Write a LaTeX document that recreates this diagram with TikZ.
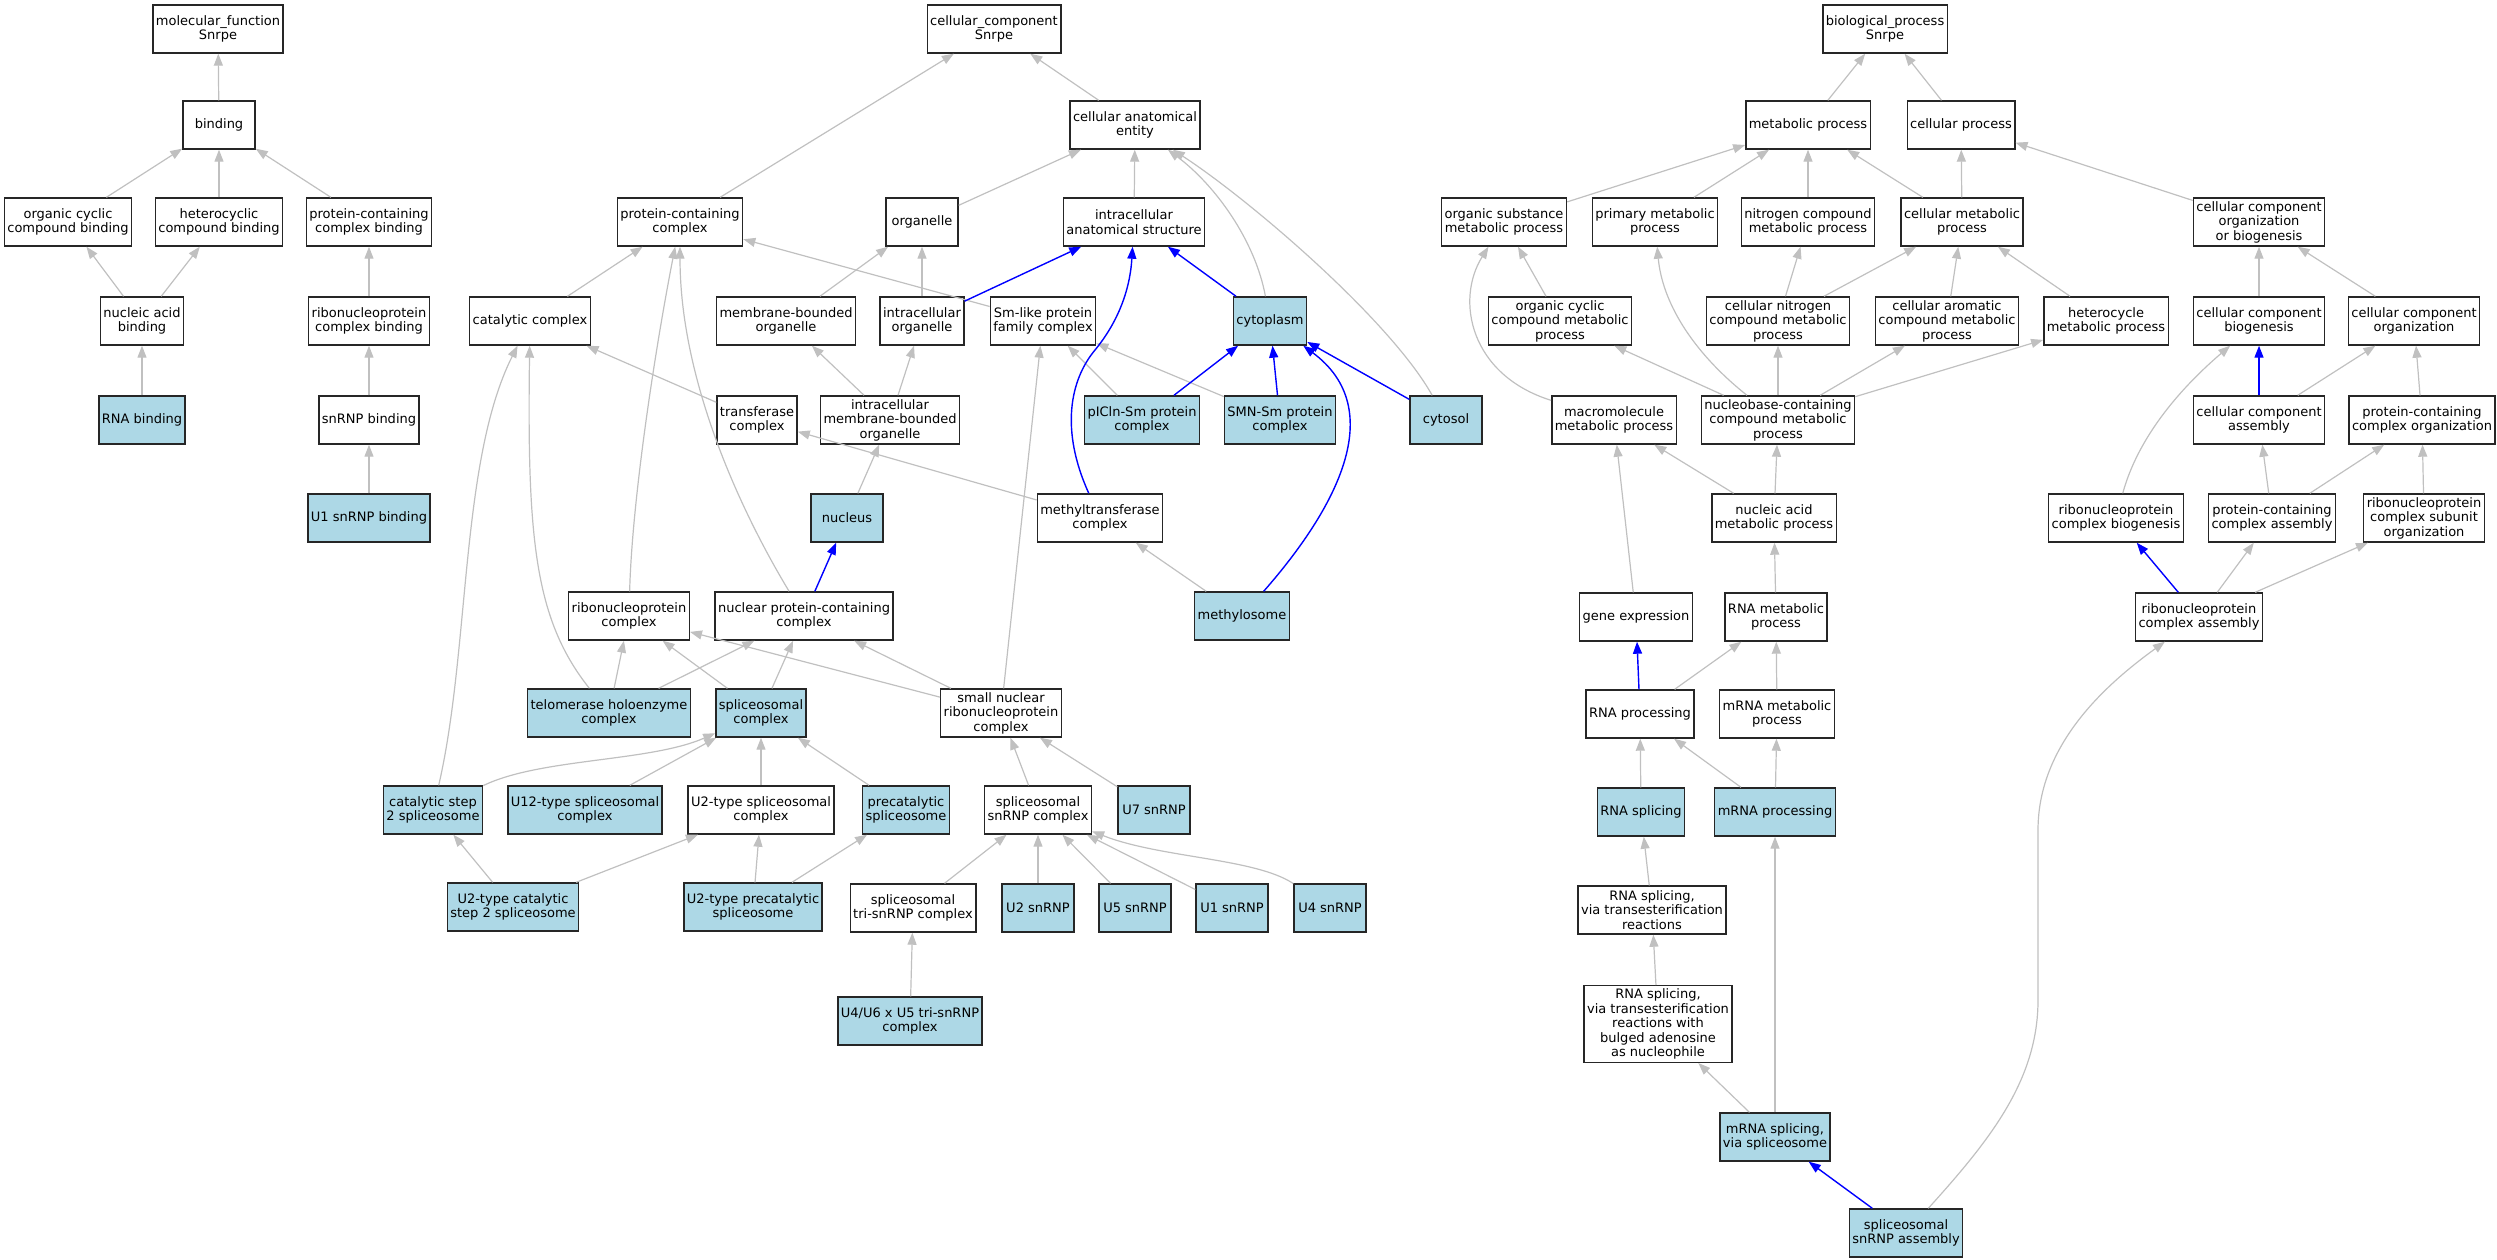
\documentclass[tikz,border=0pt]{standalone}
\usepackage{fontspec}
\setmainfont{DejaVu Sans}
\usetikzlibrary{arrows.meta}
\definecolor{hitblue}{HTML}{ADD8E6}
\definecolor{isagray}{HTML}{C0C0C0}

\begin{document}
\begin{tikzpicture}[x=1pt,y=-1pt,
  term/.style={draw=black!85, line width=1.4pt, rectangle, align=center,
    inner xsep=3pt, inner ysep=3pt, minimum height=48pt, minimum width=72pt,
    font=\fontsize{13}{14.5}\selectfont},
  hit/.style={term, fill=hitblue},
  isa/.style={draw=isagray, line width=1.2pt, -{Triangle[length=12pt,width=9pt]}},
  part/.style={draw=blue, line width=1.4pt, -{Triangle[length=12pt,width=9pt]}}]
\useasboundingbox (0,0) rectangle (2497,1259);

\node[term] (mf) at (218,29) {molecular\_function\\Snrpe};
\node[term] (bind) at (219,125) {binding};
\node[term] (occb) at (68,222) {organic cyclic\\compound binding};
\node[term] (hcb) at (219,222) {heterocyclic\\compound binding};
\node[term] (pccb) at (369,222) {protein-containing\\complex binding};
\node[term] (nab) at (142,321) {nucleic acid\\binding};
\node[term] (rcb) at (369,321) {ribonucleoprotein\\complex binding};
\node[hit] (rnab) at (142,420) {RNA binding};
\node[term] (snb) at (369,420) {snRNP binding};
\node[hit] (u1b) at (369,518) {U1 snRNP binding};

\node[term] (cc) at (994,29) {cellular\_component\\Snrpe};
\node[term] (cae) at (1135,125) {cellular anatomical\\entity};
\node[term] (pcc) at (680,222) {protein-containing\\complex};
\node[term] (org) at (922,222) {organelle};
\node[term] (ias) at (1134,222) {intracellular\\anatomical structure};
\node[term] (cat) at (530,321) {catalytic complex};
\node[term] (mbo) at (786,321) {membrane-bounded\\organelle};
\node[term] (io) at (922,321) {intracellular\\organelle};
\node[term] (sml) at (1043,321) {Sm-like protein\\family complex};
\node[hit] (cyto) at (1270,321) {cytoplasm};
\node[term] (trc) at (757,420) {transferase\\complex};
\node[term] (imbo) at (890,420) {intracellular\\membrane-bounded\\organelle};
\node[hit] (picln) at (1142,420) {pICln-Sm protein\\complex};
\node[hit] (smn) at (1280,420) {SMN-Sm protein\\complex};
\node[hit] (cytosol) at (1446,420) {cytosol};
\node[hit] (nuc) at (847,518) {nucleus};
\node[term] (mtc) at (1100,518) {methyltransferase\\complex};
\node[term] (rnp) at (629,616) {ribonucleoprotein\\complex};
\node[term] (npc) at (804,616) {nuclear protein-containing\\complex};
\node[hit] (mth) at (1242,616) {methylosome};
\node[hit] (tel) at (609,713) {telomerase holoenzyme\\complex};
\node[hit] (spc) at (761,713) {spliceosomal\\complex};
\node[term] (snrnp) at (1001,713) {small nuclear\\ribonucleoprotein\\complex};
\node[hit] (cs2) at (433,810) {catalytic step\\2 spliceosome};
\node[hit] (u12) at (585,810) {U12-type spliceosomal\\complex};
\node[term] (u2sc) at (761,810) {U2-type spliceosomal\\complex};
\node[hit] (pre) at (906,810) {precatalytic\\spliceosome};
\node[term] (ssc) at (1038,810) {spliceosomal\\snRNP complex};
\node[hit] (u7) at (1154,810) {U7 snRNP};
\node[hit] (u2cs2) at (513,907) {U2-type catalytic\\step 2 spliceosome};
\node[hit] (u2pre) at (753,907) {U2-type precatalytic\\spliceosome};
\node[term] (tri) at (913,908) {spliceosomal\\tri-snRNP complex};
\node[hit] (u2) at (1038,908) {U2 snRNP};
\node[hit] (u5) at (1135,908) {U5 snRNP};
\node[hit] (u1) at (1232,908) {U1 snRNP};
\node[hit] (u4) at (1330,908) {U4 snRNP};
\node[hit] (u46) at (910,1021) {U4/U6 x U5 tri-snRNP\\complex};

\node[term] (bp) at (1885,29) {biological\_process\\Snrpe};
\node[term] (mp) at (1808,125) {metabolic process};
\node[term] (cp) at (1961,125) {cellular process};
\node[term] (osmp) at (1504,222) {organic substance\\metabolic process};
\node[term] (pmp) at (1655,222) {primary metabolic\\process};
\node[term] (ncmp) at (1808,222) {nitrogen compound\\metabolic process};
\node[term] (cmp) at (1962,222) {cellular metabolic\\process};
\node[term] (ccob) at (2259,222) {cellular component\\organization\\or biogenesis};
\node[term] (occmp) at (1560,321) {organic cyclic\\compound metabolic\\process};
\node[term] (cncmp) at (1778,321) {cellular nitrogen\\compound metabolic\\process};
\node[term] (cacmp) at (1947,321) {cellular aromatic\\compound metabolic\\process};
\node[term] (hmp) at (2106,321) {heterocycle\\metabolic process};
\node[term] (ccb) at (2259,321) {cellular component\\biogenesis};
\node[term] (cco) at (2414,321) {cellular component\\organization};
\node[term] (mmp) at (1614,420) {macromolecule\\metabolic process};
\node[term] (nbmp) at (1778,420) {nucleobase-containing\\compound metabolic\\process};
\node[term] (cca) at (2259,420) {cellular component\\assembly};
\node[term] (pco) at (2422,420) {protein-containing\\complex organization};
\node[term] (namp) at (1774,518) {nucleic acid\\metabolic process};
\node[term] (rnpb) at (2116,518) {ribonucleoprotein\\complex biogenesis};
\node[term] (pca) at (2272,518) {protein-containing\\complex assembly};
\node[term] (rnpso) at (2424,518) {ribonucleoprotein\\complex subunit\\organization};
\node[term] (ge) at (1636,617) {gene expression};
\node[term] (rmp) at (1776,617) {RNA metabolic\\process};
\node[term] (rnpa) at (2199,617) {ribonucleoprotein\\complex assembly};
\node[term] (rproc) at (1640,714) {RNA processing};
\node[term] (mrmp) at (1777,714) {mRNA metabolic\\process};
\node[hit] (rspl) at (1641,812) {RNA splicing};
\node[hit] (mproc) at (1775,812) {mRNA processing};
\node[term] (rstr) at (1652,910) {RNA splicing,\\via transesterification\\reactions};
\node[term] (rsbulge) at (1658,1024) {RNA splicing,\\via transesterification\\reactions with\\bulged adenosine\\as nucleophile};
\node[hit] (msvs) at (1775,1137) {mRNA splicing,\\via spliceosome};
\node[hit] (ssa) at (1906,1233) {spliceosomal\\snRNP assembly};

\path[isa] (bind) -- (mf);
\path[isa] (occb) -- (bind);
\path[isa] (hcb) -- (bind);
\path[isa] (pccb) -- (bind);
\path[isa] (nab) -- (occb);
\path[isa] (nab) -- (hcb);
\path[isa] (rnab) -- (nab);
\path[isa] (rcb) -- (pccb);
\path[isa] (snb) -- (rcb);
\path[isa] (u1b) -- (snb);

\path[isa] (pcc) -- (cc);
\path[isa] (cae) -- (cc);
\path[isa] (org) -- (cae);
\path[isa] (ias) -- (cae);
\path[isa] (cyto) .. controls (1255,240) and (1215,185) .. (cae);
\path[isa] (cytosol) .. controls (1390,320) and (1250,200) .. (cae);
\path[isa] (cat) -- (pcc);
\path[isa] (rnp) .. controls (632,500) and (655,350) .. (pcc);
\path[isa] (npc) .. controls (740,510) and (680,380) .. (pcc);
\path[isa] (sml) -- (pcc);
\path[isa] (mbo) -- (org);
\path[isa] (io) -- (org);
\path[isa] (cs2) .. controls (470,650) and (460,460) .. (cat);
\path[isa] (tel) .. controls (535,620) and (527,540) .. (cat);
\path[isa] (trc) -- (cat);
\path[isa] (mtc) -- (trc);
\path[isa] (imbo) -- (mbo);
\path[isa] (imbo) -- (io);
\path[isa] (nuc) -- (imbo);
\path[isa] (picln) -- (sml);
\path[isa] (smn) -- (sml);
\path[isa] (snrnp) -- (sml);
\path[isa] (mth) -- (mtc);
\path[isa] (tel) -- (rnp);
\path[isa] (tel) -- (npc);
\path[isa] (spc) -- (rnp);
\path[isa] (spc) -- (npc);
\path[isa] (snrnp) -- (rnp);
\path[isa] (snrnp) -- (npc);
\path[isa] (cs2) .. controls (540,758) and (650,762) .. (spc);
\path[isa] (u12) -- (spc);
\path[isa] (u2sc) -- (spc);
\path[isa] (pre) -- (spc);
\path[isa] (u2cs2) -- (cs2);
\path[isa] (u2cs2) -- (u2sc);
\path[isa] (u2pre) -- (u2sc);
\path[isa] (u2pre) -- (pre);
\path[isa] (ssc) -- (snrnp);
\path[isa] (u7) -- (snrnp);
\path[isa] (tri) -- (ssc);
\path[isa] (u2) -- (ssc);
\path[isa] (u5) -- (ssc);
\path[isa] (u1) -- (ssc);
\path[isa] (u4) .. controls (1255,858) and (1160,858) .. (ssc);
\path[isa] (u46) -- (tri);

\path[part] (io) -- (ias);
\path[part] (mtc) .. controls (1060,430) and (1070,380) .. (1095,350)
  .. controls (1118,322) and (1130,290) .. (ias);
\path[part] (cyto) -- (ias);
\path[part] (picln) -- (cyto);
\path[part] (smn) -- (cyto);
\path[part] (cytosol) -- (cyto);
\path[part] (mth) .. controls (1335,510) and (1390,410) .. (cyto);
\path[part] (npc) -- (nuc);

\path[isa] (mp) -- (bp);
\path[isa] (cp) -- (bp);
\path[isa] (osmp) -- (mp);
\path[isa] (pmp) -- (mp);
\path[isa] (ncmp) -- (mp);
\path[isa] (cmp) -- (mp);
\path[isa] (cmp) -- (cp);
\path[isa] (ccob) -- (cp);
\path[isa] (occmp) -- (osmp);
\path[isa] (mmp) .. controls (1470,375) and (1455,300) .. (osmp);
\path[isa] (nbmp) -- (occmp);
\path[isa] (nbmp) .. controls (1690,350) and (1662,300) .. (pmp);
\path[isa] (nbmp) -- (cncmp);
\path[isa] (nbmp) -- (cacmp);
\path[isa] (nbmp) -- (hmp);
\path[isa] (cncmp) -- (ncmp);
\path[isa] (cncmp) -- (cmp);
\path[isa] (cacmp) -- (cmp);
\path[isa] (hmp) -- (cmp);
\path[isa] (namp) -- (mmp);
\path[isa] (namp) -- (nbmp);
\path[isa] (ge) -- (mmp);
\path[isa] (rmp) -- (namp);
\path[isa] (rproc) -- (rmp);
\path[isa] (mrmp) -- (rmp);
\path[isa] (rspl) -- (rproc);
\path[isa] (mproc) -- (rproc);
\path[isa] (mproc) -- (mrmp);
\path[isa] (rstr) -- (rspl);
\path[isa] (rsbulge) -- (rstr);
\path[isa] (msvs) -- (rsbulge);
\path[isa] (msvs) -- (mproc);
\path[isa] (ssa) .. controls (1990,1140) and (2038,1080) .. (2038,1000) -- (2038,830)
  .. controls (2038,745) and (2105,685) .. (rnpa);
\path[isa] (rnpa) -- (pca);
\path[isa] (rnpa) -- (rnpso);
\path[isa] (rnpb) .. controls (2140,430) and (2190,380) .. (ccb);
\path[isa] (ccb) -- (ccob);
\path[isa] (cco) -- (ccob);
\path[isa] (cca) -- (cco);
\path[isa] (pco) -- (cco);
\path[isa] (pca) -- (cca);
\path[isa] (pca) -- (pco);
\path[isa] (rnpso) -- (pco);

\path[part] (rproc) -- (ge);
\path[part] (ssa) -- (msvs);
\path[part] (rnpa) -- (rnpb);
\path[part] (cca) -- (ccb);
\end{tikzpicture}
\end{document}
